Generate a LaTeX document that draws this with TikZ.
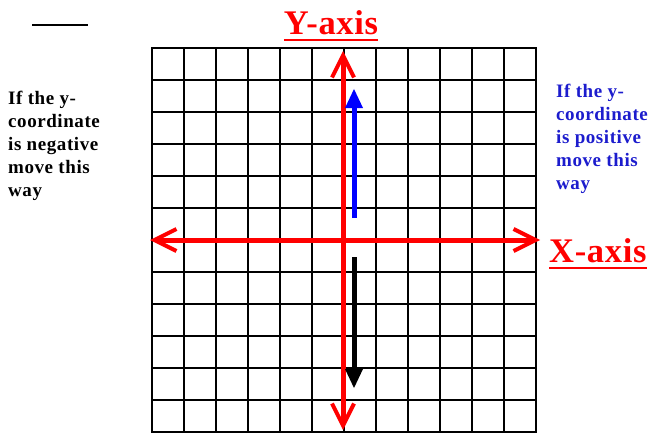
\documentclass[tikz,border=0pt]{standalone}
\usepackage{fontspec}
\setmainfont{Liberation Serif}
\newfontfamily\notafont[LetterSpace=3]{Liberation Serif}
\newfontfamily\titulofont[LetterSpace=2]{Liberation Serif}
\usetikzlibrary{arrows.meta}
\definecolor{rojoeje}{RGB}{255, 0, 0}
\definecolor{azulflecha}{RGB}{0, 0, 255}
\definecolor{azultexto}{RGB}{28, 28, 205}
\newcommand{\subrayado}[1]{\setbox0\hbox{#1}\rlap{\rule[-6.5pt]{\wd0}{2pt}}\box0}

\begin{document}
\begin{tikzpicture}[x=1pt, y=-1pt,
      celda/.style={line width=2.4pt, color=black},
      eje/.style={line width=5pt, color=rojoeje,
                  {Straight Barb[length=22pt, width=22pt, line width=4pt]}-{Straight Barb[length=22pt, width=22pt, line width=4pt]}},
      flecha/.style={line width=5pt, -{Triangle[length=19pt, width=18pt, line width=0pt]}},
      titulo/.style={inner sep=0pt, color=rojoeje, font=\titulofont\bfseries\fontsize{34.5}{40}\selectfont},
      nota/.style={inner sep=0pt, align=left, font=\notafont\bfseries\fontsize{19}{23}\selectfont}]
    \useasboundingbox (0,0) rectangle (652,433);
    % cuadricula 12 x 12
    \draw[celda] (152,48) rectangle (536,432);
    \foreach \i in {1,...,11} {
      \draw[celda] (152+32*\i,48) -- (152+32*\i,432);
      \draw[celda] (152,48+32*\i) -- (536,48+32*\i);
    }
    \draw[line width=1.3pt] (32,25) -- (88,25);
    % ejes
    \coordinate (izq) at (150,240);
    \coordinate (der) at (540,240);
    \coordinate (arr) at (343,51);
    \coordinate (aba) at (343,430);
    \draw[eje] (izq) -- (der);
    \draw[eje] (aba) -- (arr);
    \node[titulo, anchor=base] (ty) at (331,35) {\subrayado{Y-axis}};
    \node[titulo, anchor=base west] (tx) at (549,262) {\subrayado{X-axis}};
    % flechas de movimiento
    \coordinate (p0) at (354,218);
    \coordinate (p1) at (354,89);
    \coordinate (n0) at (354,257);
    \coordinate (n1) at (354,388);
    \draw[flecha, color=azulflecha] (p0) -- (p1);
    \draw[flecha, color=black] (n0) -- (n1);
    \node[nota, anchor=north west] (neg) at (8,90.5)
      {If the y-\\coordinate\\is negative\\move this\\way};
    \node[nota, anchor=north west, color=azultexto] (pos) at (556,84)
      {If the y-\\coordinate\\is positive\\move this\\way};
  \end{tikzpicture}
\end{document}
